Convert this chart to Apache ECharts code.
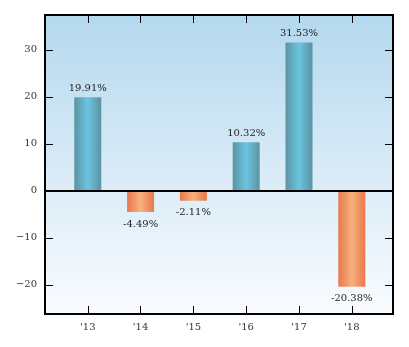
<!DOCTYPE html>
<html>
<head>
<meta charset="utf-8">
<script src="https://cdn.jsdelivr.net/npm/echarts@6/dist/echarts.min.js"></script>
<style>html,body{margin:0;padding:0;background:#fff;}#c{width:409px;height:347px;}</style>
</head>
<body>
<div id="c"></div>
<script>
var categories = ["'13", "'14", "'15", "'16", "'17", "'18"];
var values = [19.91, -4.49, -2.11, 10.32, 31.53, -20.38];
var yTicks = [-20, -10, 0, 10, 20, 30];

var FONT = 'DejaVu Serif';
function grad(edge, mid) {
  return new echarts.graphic.LinearGradient(0, 0, 1, 0, [
    {offset: 0, color: edge}, {offset: 0.5, color: mid}, {offset: 1, color: edge}
  ]);
}
var xPos = categories.map(function (c, i) { return i + 1; });
var data = values.map(function (v, i) {
  return {
    value: [xPos[i], v],
    itemStyle: {color: v >= 0 ? grad('#5b93a3', '#6ac5e0') : grad('#e8784e', '#f6b17d')},
    label: {position: v >= 0 ? 'top' : 'bottom', distance: v >= 0 ? 4 : 7}
  };
});

var chart = echarts.init(document.getElementById('c'), null, {renderer: 'canvas'});
var tickStyle = {show: true, inside: true, length: 8, lineStyle: {color: '#000', width: 1}};
var noLine = {show: false, onZero: false};
var Y_MIN = -26.2, Y_MAX = 37.4;
chart.setOption({
  animation: false,
  backgroundColor: '#fff',
  grid: {
    left: 45, top: 15, width: 348, height: 299,
    show: true, borderColor: '#000', borderWidth: 2,
    backgroundColor: new echarts.graphic.LinearGradient(0, 0, 0, 1, [
      {offset: 0, color: '#b4d8ee'}, {offset: 1, color: '#fafcff'}
    ])
  },
  xAxis: [{
    type: 'value', position: 'bottom', min: 0.19, max: 6.78,
    axisLine: noLine,
    axisTick: Object.assign({customValues: xPos}, tickStyle),
    axisLabel: {customValues: xPos, margin: 8, color: '#333', fontFamily: FONT, fontSize: 10,
      formatter: function (v) { return categories[Math.round(v) - 1] || ''; }},
    splitLine: {show: false}
  }, {
    type: 'value', position: 'top', min: 0.19, max: 6.78,
    axisLine: noLine,
    axisTick: Object.assign({customValues: xPos}, tickStyle),
    axisLabel: {show: false},
    splitLine: {show: false}
  }],
  yAxis: [{
    type: 'value', position: 'left', min: Y_MIN, max: Y_MAX,
    axisLine: noLine,
    axisTick: Object.assign({customValues: yTicks}, tickStyle),
    axisLabel: {customValues: yTicks, margin: 8, color: '#333', fontFamily: FONT, fontSize: 10,
      formatter: function (v) { return String(v).replace('-', '\u2212'); }},
    splitLine: {show: false}
  }, {
    type: 'value', position: 'right', min: Y_MIN, max: Y_MAX,
    axisLine: noLine,
    axisTick: Object.assign({customValues: yTicks}, tickStyle),
    axisLabel: {show: false},
    splitLine: {show: false}
  }],
  series: [{
    type: 'bar',
    xAxisIndex: 0, yAxisIndex: 0,
    barWidth: 27,
    data: data,
    label: {
      show: true, color: '#222', fontFamily: FONT, fontSize: 10,
      formatter: function (p) { return p.value[1].toFixed(2) + '%'; }
    },
    markLine: {
      silent: true, symbol: 'none', label: {show: false},
      lineStyle: {color: '#000', width: 2, type: 'solid'},
      data: [{yAxis: 0}]
    }
  }]
});
</script>
</body>
</html>
